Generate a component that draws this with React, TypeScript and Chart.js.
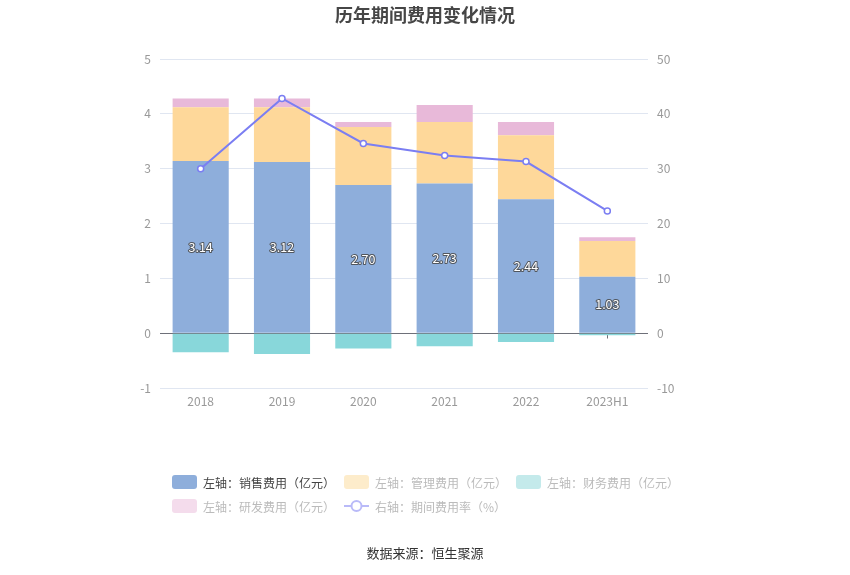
import React, { useEffect, useRef } from "react";
import { Chart, registerables } from "chart.js";

Chart.register(...registerables);

const categories = ["2018", "2019", "2020", "2021", "2022", "2023H1"];
const salesExp = [3.14, 3.12, 2.70, 2.73, 2.44, 1.03];
const mgmtExp = [0.98, 1.0, 1.06, 1.12, 1.17, 0.65];
const finExp = [-0.35, -0.38, -0.28, -0.24, -0.16, -0.04];
const rdExp = [0.16, 0.16, 0.09, 0.31, 0.24, 0.07];
const expRate = [30.0, 42.8, 34.6, 32.4, 31.3, 22.3];
const leftTicks = [-1, 0, 1, 2, 3, 4, 5];
const rightTicks = [-10, 0, 10, 20, 30, 40, 50];

const FONT = "'Noto Sans CJK SC', 'Noto Sans', sans-serif";

const labelPlugin = {
  id: "salesLabels",
  beforeDatasetsDraw(chart: any) {
    const ctx = chart.ctx;
    const x = chart.scales.x;
    const y = chart.scales.y;
    const y0 = y.getPixelForValue(0);
    ctx.save();
    ctx.strokeStyle = "#6e7079";
    ctx.lineWidth = 1;
    ctx.beginPath();
    categories.forEach((_, i) => {
      const px = Math.round(x.getPixelForValue(i)) + 0.5;
      ctx.moveTo(px, Math.round(y0) + 0.5);
      ctx.lineTo(px, Math.round(y0) + 5.5);
    });
    ctx.stroke();
    ctx.restore();
  },
  afterDatasetsDraw(chart: any) {
    const ctx = chart.ctx;
    const meta = chart.getDatasetMeta(0);
    ctx.save();
    ctx.font = `12.5px ${FONT}`;
    ctx.textAlign = "center";
    ctx.textBaseline = "middle";
    meta.data.forEach((bar: any, i: number) => {
      const cx = bar.x;
      const cy = (bar.y + bar.base) / 2;
      const txt = salesExp[i].toFixed(2);
      ctx.lineWidth = 2;
      ctx.strokeStyle = "rgba(70,70,70,0.85)";
      ctx.lineJoin = "round";
      ctx.strokeText(txt, cx, cy);
      ctx.fillStyle = "#ffffff";
      ctx.fillText(txt, cx, cy);
    });
    ctx.restore();
  },
};

export default function App() {
  const ref = useRef<HTMLCanvasElement>(null);
  useEffect(() => {
    document.body.style.margin = "0";
    const barCommon = {
      type: "bar" as const,
      yAxisID: "y",
      stack: "s",
      order: 1,
      barPercentage: 0.69,
      categoryPercentage: 1,
      borderWidth: 0,
    };
    const chart = new Chart(ref.current!, {
      type: "bar",
      data: {
        labels: categories,
        datasets: [
          { ...barCommon, label: "左轴：销售费用（亿元）", data: salesExp, backgroundColor: "#8eaedb" },
          { ...barCommon, label: "左轴：管理费用（亿元）", data: mgmtExp, backgroundColor: "#fed89a" },
          { ...barCommon, label: "左轴：财务费用（亿元）", data: finExp, backgroundColor: "#88d7da" },
          { ...barCommon, label: "左轴：研发费用（亿元）", data: rdExp, backgroundColor: "#e8b9d9" },
          {
            type: "line",
            label: "右轴：期间费用率（%）",
            data: expRate,
            yAxisID: "y1",
            order: 0,
            borderColor: "#7b7ef2",
            borderWidth: 2,
            pointRadius: 3,
            pointBorderWidth: 1.5,
            pointBackgroundColor: "#ffffff",
            pointBorderColor: "#7b7ef2",
            tension: 0,
          } as any,
        ],
      },
      options: {
        responsive: false,
        animation: false,
        layout: { padding: { top: 59, left: 0, right: 0, bottom: 0 } },
        plugins: {
          legend: { display: false },
          tooltip: { enabled: false },
          title: { display: false },
        },
        scales: {
          x: {
            stacked: true,
            grid: { display: false, drawTicks: false },
            border: { display: false },
            ticks: { color: "#999999", font: { size: 12, family: FONT }, padding: 6 },
            afterFit(scale: any) {
              scale.height = 575 - 388;
            },
          },
          y: {
            stacked: true,
            position: "left",
            min: -1,
            max: 5,
            afterBuildTicks(scale: any) {
              scale.ticks = leftTicks.map((v) => ({ value: v }));
            },
            grid: {
              drawTicks: false,
              color: (c: any) => (c.tick && c.tick.value === 0 ? "#6e7079" : "#e0e6f1"),
            },
            border: { display: false },
            ticks: { color: "#999999", font: { size: 12, family: FONT }, padding: 9 },
            afterFit(scale: any) {
              scale.width = 160;
            },
          },
          y1: {
            position: "right",
            min: -10,
            max: 50,
            afterBuildTicks(scale: any) {
              scale.ticks = rightTicks.map((v) => ({ value: v }));
            },
            grid: { display: false, drawTicks: false },
            border: { display: false },
            ticks: { color: "#999999", font: { size: 12, family: FONT }, padding: 9 },
            afterFit(scale: any) {
              scale.width = 850 - 648;
            },
          },
        },
      },
      plugins: [labelPlugin],
    });
    return () => chart.destroy();
  }, []);

  const legendRow1 = [
    { label: "左轴：销售费用（亿元）", color: "#8eaedb", text: "#444444", kind: "box" },
    { label: "左轴：管理费用（亿元）", color: "#fdeccb", text: "#bbbbbb", kind: "box" },
    { label: "左轴：财务费用（亿元）", color: "#c4eaeb", text: "#bbbbbb", kind: "box" },
  ];
  const legendRow2 = [
    { label: "左轴：研发费用（亿元）", color: "#f4dcec", text: "#bbbbbb", kind: "box" },
    { label: "右轴：期间费用率（%）", color: "#b9baf8", text: "#bbbbbb", kind: "line" },
  ];

  const renderItem = (it: any, i: number, top: number) => (
    <div
      key={it.label}
      style={{
        position: "absolute",
        left: 172 + i * 172,
        top,
        height: 16,
        display: "flex",
        alignItems: "center",
        whiteSpace: "nowrap",
      }}
    >
      {it.kind === "box" ? (
        <div style={{ width: 25, height: 14, borderRadius: 3, background: it.color }} />
      ) : (
        <svg width={25} height={14}>
          <line x1={0} y1={7} x2={25} y2={7} stroke={it.color} strokeWidth={2} />
          <circle cx={12.5} cy={7} r={5} fill="#ffffff" stroke={it.color} strokeWidth={2} />
        </svg>
      )}
      <span style={{ marginLeft: 6, fontSize: 12, color: it.text, fontFamily: FONT }}>{it.label}</span>
    </div>
  );

  return (
    <div style={{ position: "relative", width: 850, height: 575, background: "#ffffff", overflow: "hidden" }}>
      <canvas ref={ref} width={850} height={575} style={{ position: "absolute", left: 0, top: 0 }} />
      <div
        style={{
          position: "absolute",
          left: 0,
          width: 850,
          top: 2,
          textAlign: "center",
          fontFamily: FONT,
          fontWeight: "bold",
          fontSize: 18,
          color: "#464646",
          lineHeight: "24px",
        }}
      >
        历年期间费用变化情况
      </div>
      {legendRow1.map((it, i) => renderItem(it, i, 474))}
      {legendRow2.map((it, i) => renderItem(it, i, 498))}
      <div
        style={{
          position: "absolute",
          left: 0,
          width: 850,
          top: 544,
          textAlign: "center",
          fontFamily: FONT,
          fontSize: 13,
          color: "#333333",
          lineHeight: "18px",
        }}
      >
        数据来源：恒生聚源
      </div>
    </div>
  );
}
